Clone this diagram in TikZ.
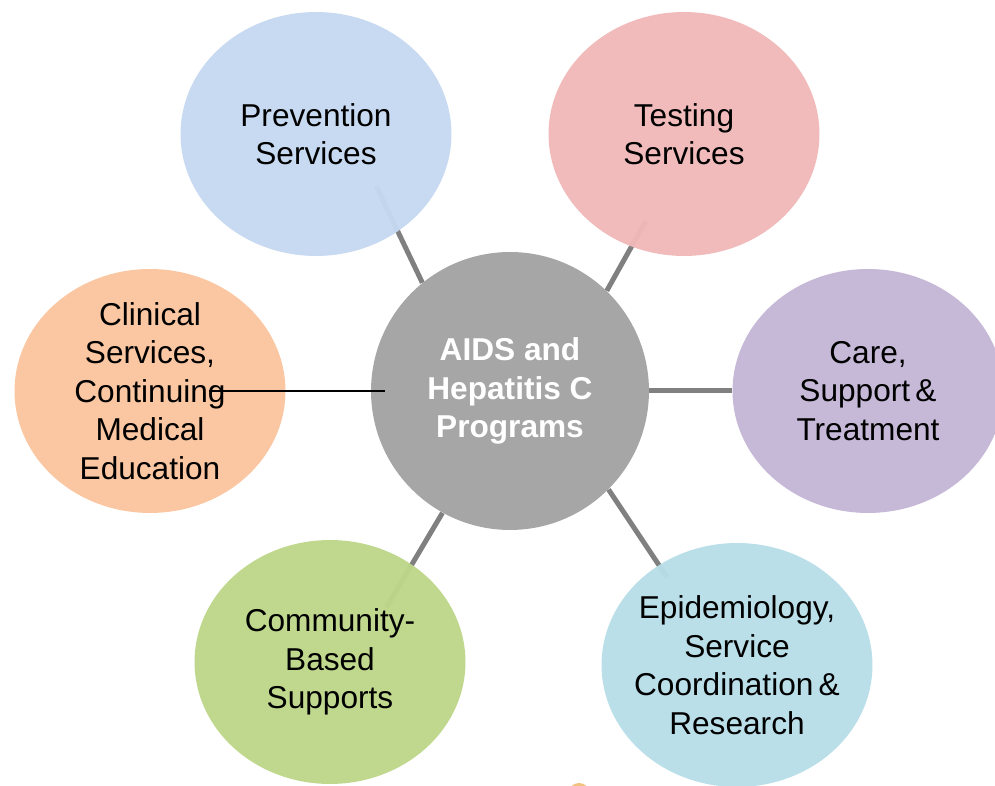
\documentclass[tikz,border=0pt]{standalone}
\usepackage{fontspec}
\setmainfont{Liberation Sans}
\usetikzlibrary{shapes.geometric,backgrounds}
\definecolor{hubgray}{HTML}{A6A6A6}
\definecolor{linkgray}{HTML}{808080}
\definecolor{prevblue}{HTML}{C6D9F1}
\definecolor{testpink}{HTML}{F0B9B9}
\definecolor{carepurple}{HTML}{C3B6D6}
\definecolor{epiblue}{HTML}{B7DEE8}
\definecolor{commgreen}{HTML}{BDD78A}
\definecolor{clinorange}{HTML}{FAC59F}
\definecolor{blobtan}{HTML}{F2C27F}
\begin{document}
\begin{tikzpicture}[x=0.02cm,y=-0.02cm,
    sat/.style={ellipse, minimum width=5.42cm, minimum height=4.88cm, inner sep=-0.6cm,
        align=center, font=\fontsize{18}{21.9}\selectfont, fill opacity=0.965, text opacity=1},
    hubnode/.style={circle, fill=hubgray, minimum size=5.56cm, inner sep=0pt,
        align=center, text=white, font=\bfseries\fontsize{18}{21.9}\selectfont},
    link/.style={draw=linkgray, line width=0.1cm},
    thinlink/.style={draw=black, line width=0.03cm}]
    \useasboundingbox (0,0) rectangle (995,786);
    \clip (0,0) rectangle (995,786);

    %nodo centrale
    \node[hubnode] (hub) at (510,391) {AIDS and\\Hepatitis C\\Programs};

    %nodi intorno
    \node[sat, fill=prevblue] (prev) at (316,134) {Prevention\\Services};
    \node[sat, fill=testpink] (test) at (684,134) {Testing\\Services};
    \node[sat, fill=carepurple] (care) at (868,391) {Care,\\Support\,\&\\Treatment};
    \node[sat, fill=epiblue] (epi) at (737,665) {Epidemiology,\\Service\\Coordination\,\&\\Research};
    \node[sat, fill=commgreen] (comm) at (330,662) {Community-\\Based\\Supports};
    \node[sat, fill=clinorange] (clin) at (150,391) {Clinical\\Services,\\Continuing\\Medical\\Education};

    %pezzetto in basso
    \fill[blobtan] (579,794) circle (11);

    %archi
    \begin{scope}[on background layer]
        \draw[link, shorten >=-1cm] (hub.129) -- (prev.-50);
        \draw[link, shorten >=-0.6cm] (hub.46) -- (test.-115);
        \draw[link] (hub.0) -- (care.180);
        \draw[link, shorten >=-0.3cm] (hub.-45) -- (epi.128);
        \draw[link, shorten >=-1cm] (hub.-119) -- (comm.50);
    \end{scope}
    \draw[thinlink] ([xshift=1.18cm]clin.center) -- ([xshift=0.28cm]hub.west);

\end{tikzpicture}
\end{document}
